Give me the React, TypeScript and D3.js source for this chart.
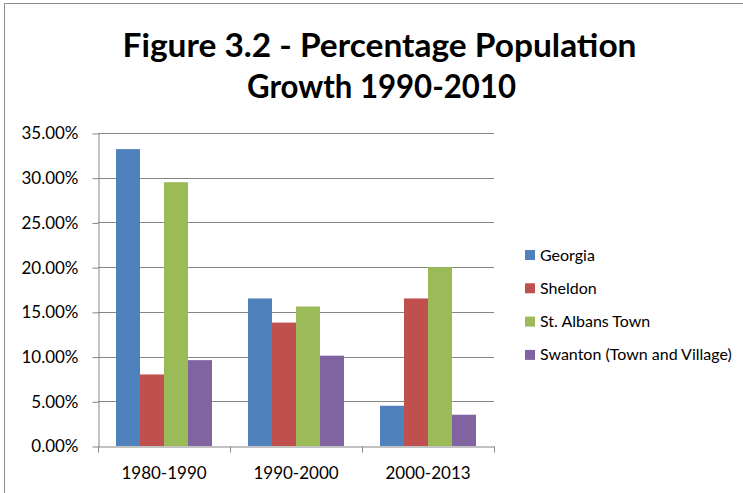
import * as d3 from "d3";
import { useEffect, useRef } from "react";

const periods = ["1980-1990", "1990-2000", "2000-2013"];
const towns = ["Georgia", "Sheldon", "St. Albans Town", "Swanton (Town and Village)"];
const georgia = [0.332, 0.165, 0.045];
const sheldon = [0.08, 0.138, 0.165];
const stAlbans = [0.295, 0.156, 0.2];
const swanton = [0.096, 0.101, 0.035];
const yTicks = [0, 0.05, 0.1, 0.15, 0.2, 0.25, 0.3, 0.35];
const colors = ["#4F81BD", "#C0504D", "#9BBB59", "#8064A2"];

const FONT = "Lato, 'Open Sans', sans-serif";

export default function App() {
  const ref = useRef<SVGSVGElement | null>(null);

  useEffect(() => {
    const svg = d3.select(ref.current);
    svg.selectAll("*").remove();

    const W = 743,
      H = 493;
    const plot = { left: 98, right: 494, top: 133, bottom: 446 };

    // chart frame
    svg
      .append("path")
      .attr("d", `M4.5,${H} V3.5 H${W}`)
      .attr("fill", "none")
      .attr("stroke", "#8c8c8c")
      .attr("stroke-width", 1);

    // title
    const title = svg
      .append("g")
      .attr("font-family", FONT)
      .attr("font-weight", "bold")
      .attr("font-size", 32)
      .attr("fill", "#000")
      .attr("text-anchor", "middle");
    title
      .append("text")
      .attr("x", 379.5)
      .attr("y", 57)
      .attr("textLength", 514)
      .attr("lengthAdjust", "spacingAndGlyphs")
      .text("Figure 3.2 - Percentage Population");
    title
      .append("text")
      .attr("x", 381.5)
      .attr("y", 98)
      .attr("textLength", 269)
      .attr("lengthAdjust", "spacingAndGlyphs")
      .text("Growth 1990-2010");

    const series = [georgia, sheldon, stAlbans, swanton];

    const x0 = d3
      .scaleBand()
      .domain(periods)
      .range([plot.left, plot.right])
      .paddingInner(0)
      .paddingOuter(0);
    // Excel gap width 150%: group occupies 4/5.5 of the band
    const x1 = d3
      .scaleBand()
      .domain(towns)
      .range([0, x0.bandwidth()])
      .paddingInner(0)
      .paddingOuter(0.75);
    const y = d3.scaleLinear().domain([0, 0.35]).range([plot.bottom, plot.top]);

    // gridlines
    svg
      .append("g")
      .selectAll("line")
      .data(yTicks.filter((t) => t > 0))
      .enter()
      .append("line")
      .attr("x1", plot.left)
      .attr("x2", plot.right)
      .attr("y1", (d) => Math.round(y(d)) + 0.5)
      .attr("y2", (d) => Math.round(y(d)) + 0.5)
      .attr("stroke", "#868686")
      .attr("stroke-width", 1);

    // y axis
    const yAxis = svg
      .append("g")
      .attr("transform", `translate(${plot.left + 0.5},0.5)`)
      .call(
        d3
          .axisLeft(y)
          .tickValues(yTicks)
          .tickFormat(d3.format(".2%"))
          .tickSize(6)
          .tickSizeOuter(0)
          .tickPadding(14)
      );
    yAxis.selectAll("path, line").attr("stroke", "#868686");
    yAxis
      .selectAll("text")
      .attr("font-family", FONT)
      .attr("font-size", 17)
      .attr("fill", "#000");

    // bars
    svg
      .append("g")
      .selectAll("g")
      .data(series)
      .enter()
      .append("g")
      .attr("fill", (_, i) => colors[i])
      .selectAll("rect")
      .data((vals, i) => vals.map((v, j) => ({ v, period: periods[j], town: towns[i] })))
      .enter()
      .append("rect")
      .attr("x", (d) => (x0(d.period) ?? 0) + (x1(d.town) ?? 0))
      .attr("y", (d) => y(d.v))
      .attr("width", x1.bandwidth())
      .attr("height", (d) => plot.bottom - y(d.v));

    // x axis
    const xAxis = svg
      .append("g")
      .attr("transform", `translate(0,${plot.bottom + 0.5})`)
      .call(d3.axisBottom(x0).tickSize(0).tickPadding(20));
    xAxis.select("path").attr("stroke", "#868686");
    xAxis
      .selectAll("text")
      .attr("font-family", FONT)
      .attr("font-size", 17)
      .attr("fill", "#000");
    xAxis
      .append("g")
      .selectAll("line")
      .data([plot.left, ...periods.map((p) => (x0(p) ?? 0) + x0.bandwidth())])
      .enter()
      .append("line")
      .attr("x1", (d) => Math.round(d) + 0.5)
      .attr("x2", (d) => Math.round(d) + 0.5)
      .attr("y1", 0)
      .attr("y2", 6)
      .attr("stroke", "#868686");

    // legend
    const legend = svg
      .append("g")
      .attr("transform", "translate(525,250)")
      .selectAll("g")
      .data(towns)
      .enter()
      .append("g")
      .attr("transform", (_, i) => `translate(0,${i * 33.3})`);
    legend
      .append("rect")
      .attr("width", 10)
      .attr("height", 10)
      .attr("fill", (_, i) => colors[i]);
    legend
      .append("text")
      .attr("x", 15)
      .attr("y", 10.5)
      .attr("font-family", FONT)
      .attr("font-size", 16)
      .attr("fill", "#000")
      .text((d) => d);
  }, []);

  return (
    <svg
      ref={ref}
      width={743}
      height={493}
      style={{ position: "absolute", left: 0, top: 0, background: "#fff" }}
    />
  );
}
